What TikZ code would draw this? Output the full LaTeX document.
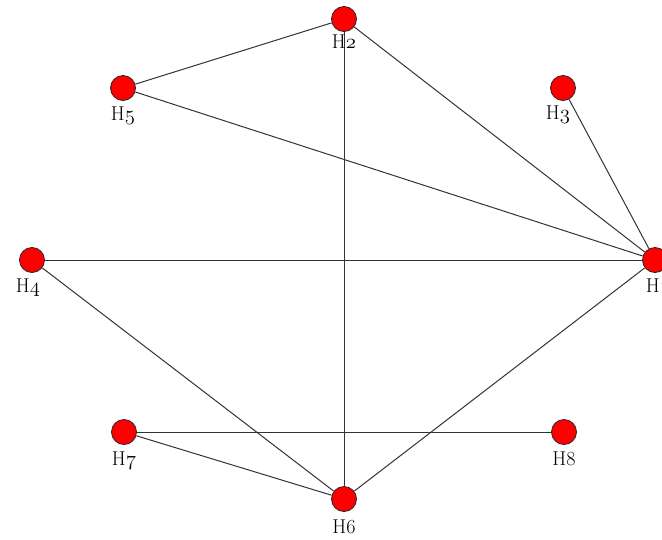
\documentclass[tikz,border=0pt]{standalone}
\usetikzlibrary{positioning}
\begin{document}
\begin{tikzpicture}[
    x=1pt, y=-1pt,
    hnode/.style={
        circle, draw=black!85, line width=0.8pt, fill=red,
        minimum size=25pt, inner sep=0pt
    },
    hlabel/.style={
        font=\fontsize{20}{20}\selectfont, text=black,
        anchor=base, inner sep=0pt
    },
    link/.style={draw=black!80, line width=1pt}
]
\useasboundingbox (0,0) rectangle (662,539);
\clip (0,0) rectangle (662,539);

% ============ VERTICES ============
\node[hnode] (h1) at (655,260) {};
\node[hnode] (h2) at (344,19)  {};
\node[hnode] (h3) at (563,88)  {};
\node[hnode] (h4) at (32,260)  {};
\node[hnode] (h5) at (123,88)  {};
\node[hnode] (h6) at (344,499) {};
\node[hnode] (h7) at (124,432) {};
\node[hnode] (h8) at (564,432) {};

% ============ EDGES ============
\draw[link] (h5) -- (h2);
\draw[link] (h2) -- (h6);
\draw[link] (h2) -- (h1);
\draw[link] (h5) -- (h1);
\draw[link] (h3) -- (h1);
\draw[link] (h4) -- (h1);
\draw[link] (h4) -- (h6);
\draw[link] (h1) -- (h6);
\draw[link] (h7) -- (h8);
\draw[link] (h7) -- (h6);

% ============ LABELS (below each vertex) ============
\node[hlabel] (l1) at ([xshift=3pt,yshift=-32pt]h1.center) {H\legacyoldstylenums{1}};
\node[hlabel] (l2) at ([yshift=-29pt]h2.center) {H\legacyoldstylenums{2}};
\node[hlabel] (l3) at ([xshift=-5pt,yshift=-31pt]h3.center) {H\legacyoldstylenums{3}};
\node[hlabel] (l4) at ([xshift=-4pt,yshift=-32pt]h4.center) {H\legacyoldstylenums{4}};
\node[hlabel] (l5) at ([yshift=-32pt]h5.center) {H\legacyoldstylenums{5}};
\node[hlabel] (l6) at ([yshift=-34pt]h6.center) {H6};
\node[hlabel] (l7) at ([yshift=-33pt]h7.center) {H\legacyoldstylenums{7}};
\node[hlabel] (l8) at ([yshift=-33pt]h8.center) {H8};

\end{tikzpicture}
\end{document}
